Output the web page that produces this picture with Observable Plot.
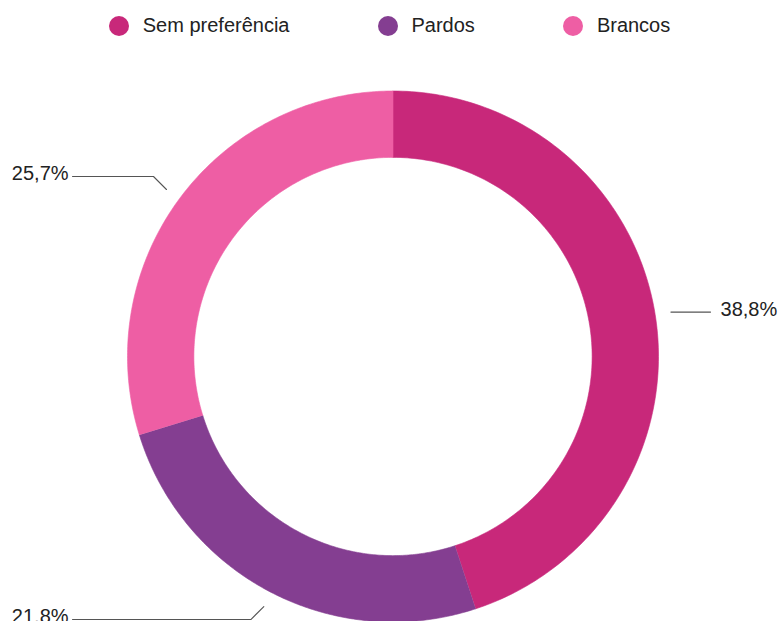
<!DOCTYPE html>
<html><head><meta charset="utf-8">
<script src="https://cdn.jsdelivr.net/npm/d3@7"></script>
<script src="https://cdn.jsdelivr.net/npm/@observablehq/plot@0.6"></script>
<style>
body{margin:0;background:#fff;font-family:"Liberation Sans",Arial,Helvetica,sans-serif;}
#legend{height:51px;width:779px;display:flex;justify-content:center;align-items:center;gap:88px;font-size:20px;color:#222;}
.item{display:flex;align-items:center;gap:14px}
.sw{width:20px;height:20px;border-radius:50%;display:inline-block}
</style></head><body>
<div id="legend"></div><div id="chart"></div>
<script>
// Data
const categories = ["Sem preferência", "Pardos", "Brancos"];
const values = [38.8, 21.8, 25.7];
const labels = ["38,8%", "21,8%", "25,7%"];
const colors = ["#C8287A", "#843E91", "#EE5EA4"];

// Layout
const W = 779, H = 570;
const cx = 392.5, cy = 305, R = 265.5;
const inner = 0.75;

// Legend
const legend = document.getElementById("legend");
categories.forEach((c, i) => {
  const it = document.createElement("div");
  it.className = "item";
  it.innerHTML = `<span class="sw" style="background:${colors[i]}"></span><span>${c}</span>`;
  legend.appendChild(it);
});

const pie = d3.pie().sort(null).value(d => d)(values);

// Ring polygons
const ring = [];
pie.forEach((p, i) => {
  const n = 160;
  for (let k = 0; k <= n; k++) {
    const a = p.startAngle + (p.endAngle - p.startAngle) * k / n;
    ring.push({cat: categories[i], x: Math.sin(a), y: Math.cos(a)});
  }
  for (let k = n; k >= 0; k--) {
    const a = p.startAngle + (p.endAngle - p.startAngle) * k / n;
    ring.push({cat: categories[i], x: inner * Math.sin(a), y: inner * Math.cos(a)});
  }
});

// Leader lines and labels
const leaders = [], leftLabels = [], rightLabels = [];
const elb = 13 / R;
pie.forEach((p, i) => {
  const a = (p.startAngle + p.endAngle) / 2;
  const s = Math.sin(a), c = Math.cos(a);
  const right = s > 0;
  const sx = 1.06 * s, sy = 1.06 * c;
  let ex = sx, ey = sy;
  if (Math.abs(c) > 0.3) { ex = sx + Math.sign(s) * elb; ey = sy + Math.sign(c) * elb; }
  const endX = right ? 1.196 : -1.207;
  leaders.push({cat: categories[i], x: sx, y: sy});
  leaders.push({cat: categories[i], x: ex, y: ey});
  leaders.push({cat: categories[i], x: endX, y: ey});
  (right ? rightLabels : leftLabels).push({x: endX, y: ey, text: labels[i]});
});

const chart = Plot.plot({
  width: W,
  height: H,
  margin: 0,
  x: {domain: [-cx / R, (W - cx) / R], axis: null},
  y: {domain: [-(H - cy) / R, cy / R], axis: null},
  color: {domain: categories, range: colors},
  style: {fontFamily: '"Liberation Sans", Arial, Helvetica, sans-serif', fontSize: "20px", color: "#222", background: "#fff"},
  marks: [
    Plot.line(ring, {x: "x", y: "y", z: "cat", fill: "cat", stroke: "cat", strokeWidth: 0.6, curve: "linear"}),
    Plot.line(leaders, {x: "x", y: "y", z: "cat", stroke: "#555", strokeWidth: 1.1}),
    Plot.text(leftLabels, {x: "x", y: "y", text: "text", textAnchor: "end", dx: -4, dy: -3, fill: "#222", fontSize: 20}),
    Plot.text(rightLabels, {x: "x", y: "y", text: "text", textAnchor: "start", dx: 10, dy: -3, fill: "#222", fontSize: 20})
  ]
});
document.getElementById("chart").appendChild(chart);
</script>
</body></html>
